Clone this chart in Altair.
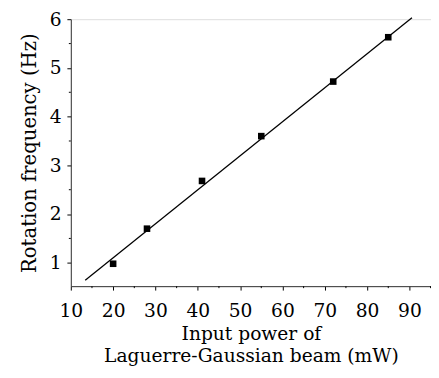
import altair as alt
import pandas as pd

# measured data
power = [20, 28, 41, 55, 72, 85]
freq = [0.98, 1.70, 2.68, 3.60, 4.72, 5.63]

# fitted line end points
fit_x = [13.4, 90.6]
fit_y = [0.64, 6.03]

x_major = [10, 20, 30, 40, 50, 60, 70, 80, 90]
x_minor = [15, 25, 35, 45, 55, 65, 75, 85, 95]
y_major = [1, 2, 3, 4, 5, 6]
y_minor = [1.5, 2.5, 3.5, 4.5, 5.5]

X_DOMAIN = [10, 95.1]
Y_DOMAIN = [0.52, 6]
W, H = 367, 272
FONT = "DejaVu Serif"

pts = pd.DataFrame({"x": power, "y": freq})
fit = pd.DataFrame({"x": fit_x, "y": fit_y})
xm = pd.DataFrame({"v": x_minor})
ym = pd.DataFrame({"v": y_minor})

xscale = alt.Scale(domain=X_DOMAIN, nice=False, zero=False)
yscale = alt.Scale(domain=Y_DOMAIN, nice=False, zero=False)

xaxis = alt.Axis(values=x_major, title=["Input power of", "Laguerre-Gaussian beam (mW)"],
                 grid=False, tickSize=4, tickColor="black", domainColor="#333",
                 labelFont=FONT, labelFontSize=19, labelColor="black", labelPadding=12,
                 titleFont=FONT, titleFontSize=19, titleFontWeight="normal", titleColor="black",
                 titleLineHeight=23, titlePadding=4, labelFlush=False)
yaxis = alt.Axis(values=y_major, title="Rotation frequency (Hz)",
                 grid=False, tickSize=4, tickColor="black", domainColor="#333",
                 labelFont=FONT, labelFontSize=19, labelColor="black", labelPadding=6,
                 titleFont=FONT, titleFontSize=20, titleFontWeight="normal", titleColor="black",
                 titlePadding=10, labelFlush=False)

line = alt.Chart(fit).mark_line(color="black", strokeWidth=1.3).encode(
    x=alt.X("x:Q", scale=xscale, axis=xaxis),
    y=alt.Y("y:Q", scale=yscale, axis=yaxis),
)
points = alt.Chart(pts).mark_square(color="black", size=45, opacity=1).encode(
    x=alt.X("x:Q", scale=xscale),
    y=alt.Y("y:Q", scale=yscale),
)
xminor = alt.Chart(xm).mark_rule(color="black", strokeWidth=1).encode(
    x=alt.X("v:Q", scale=xscale),
    y=alt.value(H), y2=alt.value(H + 2),
)
yminor = alt.Chart(ym).mark_rule(color="black", strokeWidth=1).encode(
    y=alt.Y("v:Q", scale=yscale),
    x=alt.value(0), x2=alt.value(-2),
)

chart = alt.layer(line, points, xminor, yminor).properties(
    width=W, height=H,
    autosize=alt.AutoSizeParams(type="none"),
    padding={"left": 64, "top": 8, "right": 0, "bottom": 82},
).configure_view(stroke=None).configure(background="white")

chart.save("out.html", embed_options={"renderer": "svg", "actions": False})
